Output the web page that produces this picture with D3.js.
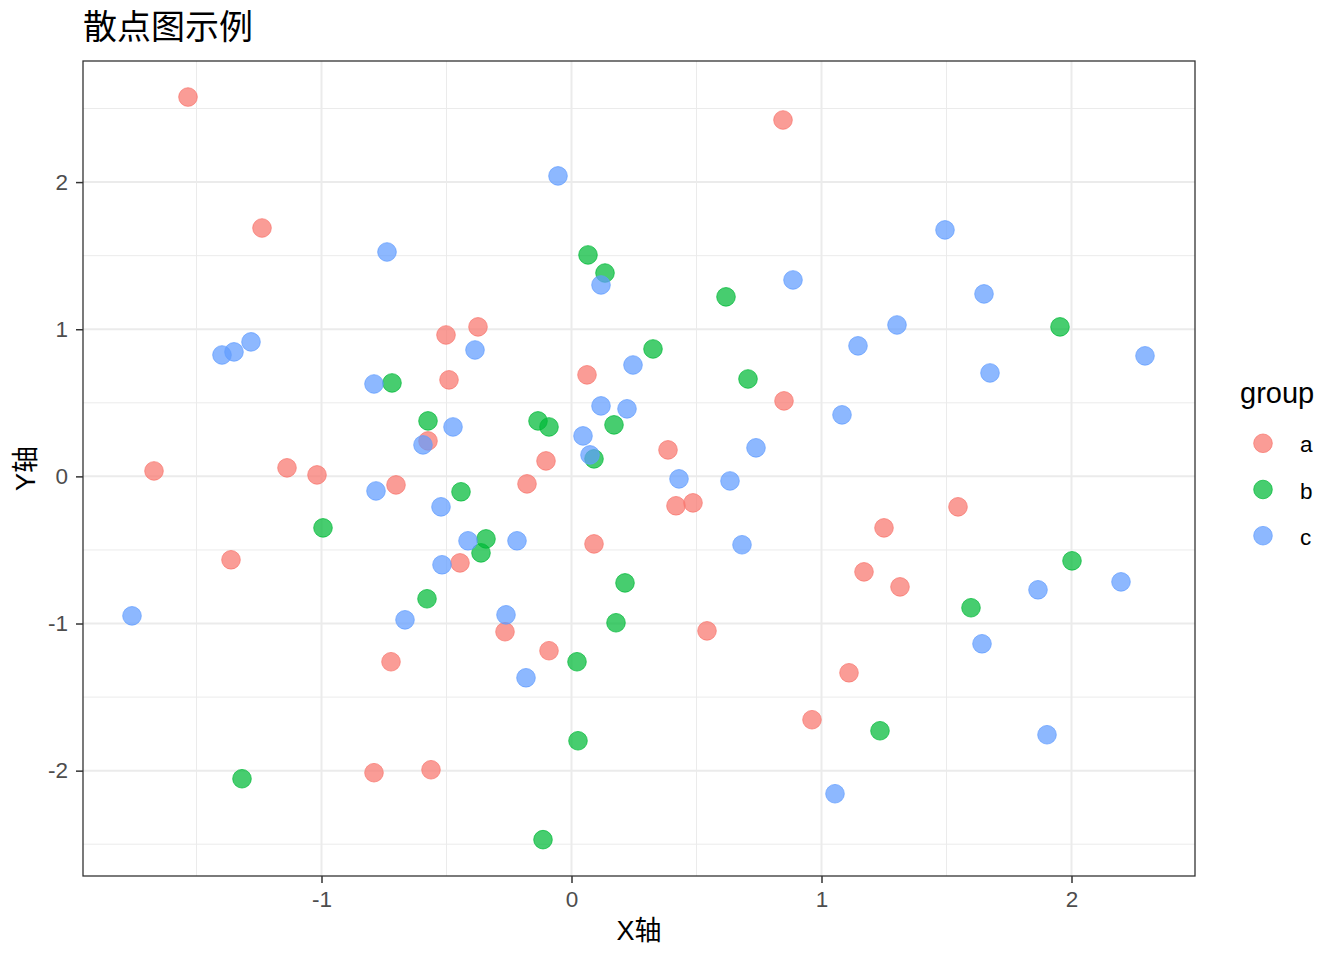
<!DOCTYPE html>
<html>
<head>
<meta charset="utf-8">
<script src="https://cdn.jsdelivr.net/npm/d3@7"></script>
<style>
  body { margin: 0; background: #fff; }
  svg text { font-family: "Liberation Sans", Arial, "Noto Sans CJK SC", sans-serif; }
</style>
</head>
<body>
<div id="chart"></div>
<script>
// data
const groups = ['a', 'b', 'c'];
const colors = ['#F8766D', '#00BA38', '#619CFF'];

const aX = [-1.534, -1.238, -1.67, -1.138, -1.018, -1.362, -0.702, -0.574, -0.502, -0.49, -0.374,
  -0.446, -0.722, -0.79, -0.562, -0.266, -0.178, -0.102, -0.09, 0.062, 0.09, 0.386, 0.418, 0.486,
  0.542, 0.846, 0.85, 0.962, 1.11, 1.17, 1.25, 1.314, 1.546];
const aY = [2.578, 1.688, 0.037, 0.058, 0.01, -0.567, -0.058, 0.241, 0.961, 0.656, 1.016,
  -0.588, -1.26, -2.014, -1.994, -1.056, -0.051, 0.105, -1.185, 0.69, -0.459, 0.18, -0.2, -0.18,
  -1.05, 2.422, 0.513, -1.654, -1.335, -0.649, -0.35, -0.751, -0.207];

const bX = [-0.718, -0.574, -0.994, -0.442, -0.342, -0.362, -0.578, -1.318, -0.134, -0.09, 0.066,
  0.134, 0.326, 0.17, 0.09, 0.214, 0.178, 0.022, 0.026, -0.114, 0.618, 0.706, 1.954, 2.002, 1.598, 1.234];
const bY = [0.635, 0.377, -0.35, -0.105, -0.425, -0.52, -0.832, -2.055, 0.377, 0.336, 1.505,
  1.382, 0.866, 0.35, 0.119, -0.724, -0.995, -1.26, -1.797, -2.469, 1.22, 0.662, 1.016, -0.574, -0.893, -1.729];

const cX = [-1.758, -1.398, -1.35, -1.282, -0.738, -0.79, -0.782, -0.594, -0.474, -0.386, -0.522,
  -0.414, -0.518, -0.666, -0.262, -0.218, -0.182, -0.054, 0.118, 0.246, 0.118, 0.222, 0.046, 0.074,
  0.43, 0.634, 0.682, 0.738, 0.886, 1.082, 1.146, 1.302, 1.494, 1.65, 1.674, 1.866, 1.642, 1.902,
  1.054, 2.198, 2.294];
const cY = [-0.948, 0.825, 0.846, 0.914, 1.525, 0.628, -0.099, 0.214, 0.336, 0.859, -0.207,
  -0.438, -0.601, -0.975, -0.941, -0.438, -1.369, 2.042, 1.301, 0.757, 0.479, 0.459, 0.275, 0.146,
  -0.017, -0.031, -0.465, 0.194, 1.335, 0.418, 0.887, 1.029, 1.675, 1.24, 0.703, -0.771, -1.138, -1.756,
  -2.157, -0.717, 0.819];

const xMajor = [-1, 0, 1, 2];
const xMinor = [-1.5, -0.5, 0.5, 1.5];
const yMajor = [-2, -1, 0, 1, 2];
const yMinor = [-2.5, -1.5, -0.5, 0.5, 1.5, 2.5];

const data = []
  .concat(aX.map((x, i) => ({ x: x, y: aY[i], g: 'a' })))
  .concat(bX.map((x, i) => ({ x: x, y: bY[i], g: 'b' })))
  .concat(cX.map((x, i) => ({ x: x, y: cY[i], g: 'c' })));

const width = 1344,
  height = 960;
const margin = { top: 61, right: 149, bottom: 84, left: 83 };
const pw = width - margin.left - margin.right,
  ph = height - margin.top - margin.bottom;

const svg = d3
  .select('#chart')
  .append('svg')
  .attr('width', width)
  .attr('height', height);

const g = svg.append('g').attr('transform', `translate(${margin.left},${margin.top})`);

const x = d3.scaleLinear().domain([-1.954, 2.494]).range([0, pw]);
const y = d3.scaleLinear().domain([-2.716, 2.823]).range([ph, 0]);
const color = d3.scaleOrdinal().domain(groups).range(colors);

// grid: minor first, then major
function vLines(vals, w) {
  g.append('g')
    .selectAll('line')
    .data(vals)
    .join('line')
    .attr('x1', (d) => x(d)).attr('x2', (d) => x(d))
    .attr('y1', 0).attr('y2', ph)
    .attr('stroke', '#EBEBEB').attr('stroke-width', w);
}
function hLines(vals, w) {
  g.append('g')
    .selectAll('line')
    .data(vals)
    .join('line')
    .attr('y1', (d) => y(d)).attr('y2', (d) => y(d))
    .attr('x1', 0).attr('x2', pw)
    .attr('stroke', '#EBEBEB').attr('stroke-width', w);
}
vLines(xMinor, 1);
hLines(yMinor, 1);
vLines(xMajor, 2);
hLines(yMajor, 2);

// points
g.append('g')
  .selectAll('circle')
  .data(data)
  .join('circle')
  .attr('cx', (d) => x(d.x))
  .attr('cy', (d) => y(d.y))
  .attr('r', 9.3)
  .attr('fill', (d) => color(d.g))
  .attr('fill-opacity', 0.72)
  .attr('stroke', (d) => color(d.g))
  .attr('stroke-opacity', 0.72)
  .attr('stroke-width', 1);

// panel border
g.append('rect')
  .attr('width', pw)
  .attr('height', ph)
  .attr('fill', 'none')
  .attr('stroke', '#333333')
  .attr('stroke-width', 1.3);

// axes
const xAxis = g
  .append('g')
  .attr('transform', `translate(0,${ph})`)
  .call(d3.axisBottom(x).tickValues(xMajor).tickSize(7).tickPadding(8));
const yAxis = g
  .append('g')
  .call(d3.axisLeft(y).tickValues(yMajor).tickSize(7).tickPadding(8));

[xAxis, yAxis].forEach((a) => {
  a.select('.domain').remove();
  a.selectAll('.tick line').attr('stroke', '#333333').attr('stroke-width', 1.5);
  a.selectAll('.tick text')
    .attr('fill', '#4D4D4D')
    .style('font-size', '22.5px')
    .text((d) => (d < 0 ? '-' + Math.abs(d) : d));
});

// titles
svg.append('text')
  .attr('x', 83)
  .attr('y', 39)
  .style('font-size', '34px')
  .attr('fill', '#000')
  .text('散点图示例');

svg.append('text')
  .attr('x', margin.left + pw / 2)
  .attr('y', 940)
  .attr('text-anchor', 'middle')
  .style('font-size', '27px')
  .attr('fill', '#000')
  .text('X轴');

svg.append('text')
  .attr('transform', `translate(35,${margin.top + ph / 2}) rotate(-90)`)
  .attr('text-anchor', 'middle')
  .style('font-size', '27px')
  .attr('fill', '#000')
  .text('Y轴');

// legend
const legend = svg.append('g').attr('transform', 'translate(1240,0)');
legend.append('text')
  .attr('x', 0)
  .attr('y', 403)
  .style('font-size', '29px')
  .attr('fill', '#000')
  .text('group');

const item = legend
  .selectAll('.item')
  .data(groups)
  .join('g')
  .attr('class', 'item')
  .attr('transform', (d, i) => `translate(0,${443.3 + i * 46.2})`);

item.append('circle')
  .attr('cx', 23)
  .attr('cy', 0)
  .attr('r', 9.3)
  .attr('fill', (d) => color(d))
  .attr('fill-opacity', 0.72)
  .attr('stroke', (d) => color(d))
  .attr('stroke-opacity', 0.72)
  .attr('stroke-width', 1);

item.append('text')
  .attr('x', 60)
  .attr('y', 9)
  .style('font-size', '22.5px')
  .attr('fill', '#000')
  .text((d) => d);
</script>
</body>
</html>
